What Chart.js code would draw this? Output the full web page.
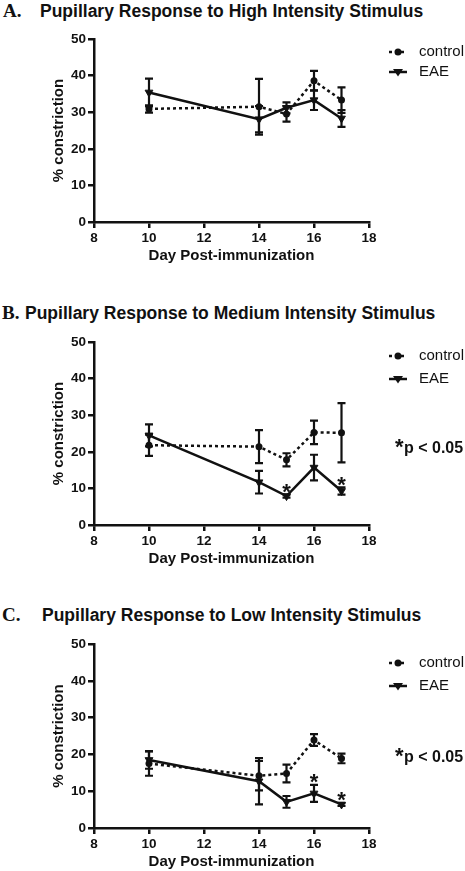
<!DOCTYPE html>
<html>
<head>
<meta charset="utf-8">
<script src="https://cdn.jsdelivr.net/npm/chart.js@4.4.1/dist/chart.umd.min.js"></script>
<style>
  body { margin: 0; background: #fff; width: 465px; height: 871px; position: relative; overflow: hidden; }
  .panel { position: absolute; left: 0; width: 465px; }
  .title { position: absolute; white-space: nowrap; font-family: "Liberation Sans", Arial, sans-serif; font-weight: bold; font-size: 17.5px; color: #111; }
  .letter { position: absolute; font-family: "Liberation Serif", "Times New Roman", serif; font-weight: bold; font-size: 19px; color: #111; }
</style>
</head>
<body>
<div class="letter" style="left:3px; top:0px">A.</div>
<div class="title" style="left:40px; top:1px">Pupillary Response to High Intensity Stimulus</div>
<div class="letter" style="left:2px; top:302px">B.</div>
<div class="title" style="left:25px; top:303px">Pupillary Response to Medium Intensity Stimulus</div>
<div class="letter" style="left:2px; top:604px">C.</div>
<div class="title" style="left:42px; top:605px">Pupillary Response to Low Intensity Stimulus</div>

<div class="panel" style="top:0px; height:290px"><canvas id="chartA" width="465" height="290"></canvas></div>
<div class="panel" style="top:290px; height:290px"><canvas id="chartB" width="465" height="290"></canvas></div>
<div class="panel" style="top:580px; height:291px"><canvas id="chartC" width="465" height="291"></canvas></div>

<script>
// days post-immunization
const days = [10, 14, 15, 16, 17];

// high intensity (mean, error)
const highControl = [30.9, 31.5, 29.5, 38.6, 33.3];
const highControlErr = [1.0, 7.6, 2.1, 2.7, 3.5];
const highEae = [35.4, 28.1, 31.2, 33.3, 28.3];
const highEaeErr = [3.8, 3.6, 1.5, 2.7, 2.3];
const highStars = [];

// medium intensity
const medControl = [21.8, 21.4, 17.8, 25.3, 25.2];
const medControlErr = [2.9, 4.5, 1.8, 3.2, 8.1];
const medEae = [24.5, 11.7, 7.9, 15.7, 9.3];
const medEaeErr = [3.0, 3.1, 0.4, 3.5, 1.0];
const medStars = [15, 17];

// low intensity
const lowControl = [17.5, 14.2, 14.8, 23.9, 18.9];
const lowControlErr = [3.3, 4.0, 2.4, 1.6, 1.3];
const lowEae = [18.5, 12.7, 7.1, 9.4, 6.4];
const lowEaeErr = [2.4, 6.3, 1.6, 2.3, 0.4];
const lowStars = [16, 17];

const seriesNames = ['control', 'EAE'];

const INK = '#111';
const FONT = '"Liberation Sans", Arial, sans-serif';
Chart.defaults.font.family = FONT;
Chart.defaults.color = INK;

// error bars drawn from each dataset's errors array
const errorBars = {
  id: 'errorBars',
  afterDatasetsDraw(chart) {
    const ctx = chart.ctx;
    const y = chart.scales.y;
    chart.data.datasets.forEach((ds, i) => {
      const meta = chart.getDatasetMeta(i);
      ctx.save();
      ctx.strokeStyle = INK;
      ctx.lineWidth = 2.2;
      meta.data.forEach((pt, j) => {
        const v = ds.data[j].y, e = ds.errors[j];
        const top = y.getPixelForValue(v + e);
        const bot = y.getPixelForValue(v - e);
        ctx.beginPath();
        ctx.moveTo(pt.x, top); ctx.lineTo(pt.x, bot);
        ctx.moveTo(pt.x - 4, top); ctx.lineTo(pt.x + 4, top);
        ctx.moveTo(pt.x - 4, bot); ctx.lineTo(pt.x + 4, bot);
        ctx.stroke();
      });
      ctx.restore();
    });
  }
};

function downTriangle(ctx, x, y, r) {
  ctx.beginPath();
  ctx.moveTo(x - r, y - r * 0.6);
  ctx.lineTo(x + r, y - r * 0.6);
  ctx.lineTo(x, y + r * 0.9);
  ctx.closePath();
  ctx.fill();
}

// legend, significance stars and p note
const extras = {
  id: 'extras',
  afterDraw(chart, args, opts) {
    const ctx = chart.ctx;
    const area = chart.chartArea;
    const x = chart.scales.x, y = chart.scales.y;
    ctx.save();
    ctx.fillStyle = INK;
    ctx.strokeStyle = INK;
    ctx.lineWidth = 2.5;

    // legend
    const lx = area.right + 20, mx = area.right + 29, tx = area.right + 50;
    const [y1, y2] = opts.legendY;
    ctx.setLineDash([3, 3]);
    ctx.beginPath(); ctx.moveTo(lx, y1); ctx.lineTo(lx + 18, y1); ctx.stroke();
    ctx.setLineDash([]);
    ctx.beginPath(); ctx.arc(mx, y1, 3.5, 0, Math.PI * 2); ctx.fill();
    ctx.beginPath(); ctx.moveTo(lx, y2); ctx.lineTo(lx + 18, y2); ctx.stroke();
    downTriangle(ctx, mx, y2, 5);
    ctx.font = '15px ' + FONT;
    ctx.textBaseline = 'middle';
    ctx.fillText(seriesNames[0], tx, y1);
    ctx.fillText(seriesNames[1], tx, y2);

    // stars above EAE points
    const eaeDs = chart.data.datasets[1];
    ctx.font = 'bold 22px ' + FONT;
    ctx.textAlign = 'center';
    ctx.textBaseline = 'alphabetic';
    opts.stars.forEach(d => {
      const j = days.indexOf(d);
      const capY = y.getPixelForValue(eaeDs.data[j].y + eaeDs.errors[j]);
      ctx.fillText('*', x.getPixelForValue(d), capY - 8 + 12.5);
    });

    // p note
    if (opts.noteY) {
      ctx.textAlign = 'left';
      ctx.font = 'bold 22px ' + FONT;
      ctx.fillText('*', 395, opts.noteY + 1);
      ctx.font = 'bold 16px ' + FONT;
      ctx.fillText('p < 0.05', 404, opts.noteY);
    }
    ctx.restore();
  }
};

function axis(min, max, step, title, fit) {
  return {
    type: 'linear',
    min: min,
    max: max,
    ticks: { stepSize: step, font: { size: 13.5, weight: 'bold' }, color: INK, padding: 2 },
    grid: { drawOnChartArea: false, drawTicks: true, tickLength: 6, color: INK, lineWidth: 2.5 },
    border: { display: true, color: INK, width: 2.5 },
    title: { display: true, text: title, font: { size: 15, weight: 'bold' }, color: INK, padding: 0 },
    afterFit: fit
  };
}

function makePanel(id, control, controlErr, eae, eaeErr, stars, lay) {
  new Chart(document.getElementById(id), {
    type: 'line',
    data: {
      datasets: [
        {
          label: seriesNames[0],
          data: days.map((d, i) => ({ x: d, y: control[i] })),
          errors: controlErr,
          borderColor: INK,
          borderWidth: 2.5,
          borderDash: [3, 3],
          pointStyle: 'circle',
          pointRadius: 3.5,
          pointBackgroundColor: INK,
          pointBorderColor: INK,
          pointBorderWidth: 0
        },
        {
          label: seriesNames[1],
          data: days.map((d, i) => ({ x: d, y: eae[i] })),
          errors: eaeErr,
          borderColor: INK,
          borderWidth: 2.5,
          pointStyle: 'triangle',
          pointRotation: 180,
          pointRadius: 4.5,
          pointBackgroundColor: INK,
          pointBorderColor: INK,
          pointBorderWidth: 1
        }
      ]
    },
    options: {
      responsive: false,
      animation: false,
      devicePixelRatio: 1,
      layout: { padding: { top: lay.top, bottom: lay.bottom, left: 50, right: 96 } },
      scales: {
        x: axis(8, 18, 2, 'Day Post-immunization', s => { s.height = 43; }),
        y: axis(0, 50, 10, '% constriction', s => { s.width = 44; })
      },
      plugins: {
        legend: { display: false },
        tooltip: { enabled: false },
        extras: { legendY: lay.legendY, stars: stars, noteY: lay.noteY }
      }
    },
    plugins: [errorBars, extras]
  });
}

makePanel('chartA', highControl, highControlErr, highEae, highEaeErr, highStars,
  { top: 39, bottom: 25, legendY: [52, 72], noteY: null });
makePanel('chartB', medControl, medControlErr, medEae, medEaeErr, medStars,
  { top: 52, bottom: 12, legendY: [66, 89], noteY: 163 });
makePanel('chartC', lowControl, lowControlErr, lowEae, lowEaeErr, lowStars,
  { top: 64, bottom: 0, legendY: [83, 106], noteY: 181.5 });
</script>
</body>
</html>
